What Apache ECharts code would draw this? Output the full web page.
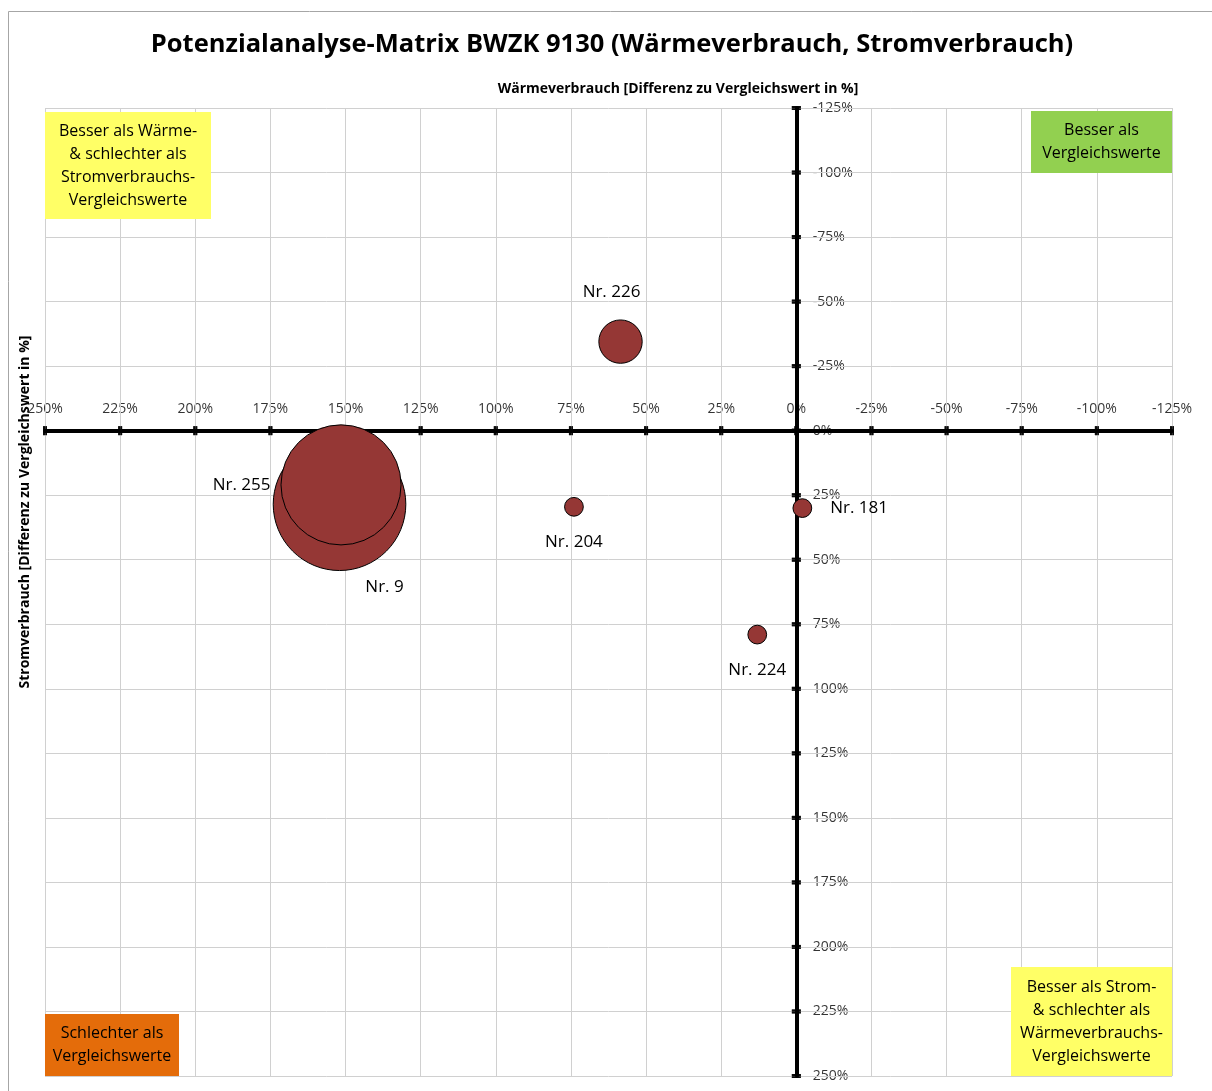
<!DOCTYPE html>
<html>
<head>
<meta charset="utf-8">
<script src="https://cdn.jsdelivr.net/npm/echarts@6/dist/echarts.min.js"></script>
<style>
html,body{margin:0;padding:0;background:#fff;overflow:hidden;width:100%;height:100%;}
#chart{width:1212px;height:1091px;overflow:hidden;}
</style>
</head>
<body>
<div id="chart"></div>
<script>
// ---- Data ----
const names   = ['Nr. 226', 'Nr. 9', 'Nr. 255', 'Nr. 204', 'Nr. 181', 'Nr. 224'];
const waerme  = [58.5, 152, 151.5, 74, -2, 13];      // Wärmeverbrauch, Differenz in %
const strom   = [-34.5, 28.5, 21, 29.5, 30, 79];     // Stromverbrauch, Differenz in %
const groesse = [10.7, 100, 82, 2, 2, 2];            // Blasengröße (relativ)
const axisMin = -125, axisMax = 250, axisStep = 25;
const xTickValues = [250, 225, 200, 175, 150, 125, 100, 75, 50, 25, 0, -25, -50, -75, -100, -125];
const yTickValues = [-125, -100, -75, -50, -25, 0, 25, 50, 75, 100, 125, 150, 175, 200, 225, 250];

const titleText = 'Potenzialanalyse-Matrix BWZK 9130 (Wärmeverbrauch, Stromverbrauch)';
const xName = 'Wärmeverbrauch [Differenz zu Vergleichswert in %]';
const yName = 'Stromverbrauch [Differenz zu Vergleichswert in %]';
const quadrantTexts = [
  'Besser als Wärme-\n& schlechter als\nStromverbrauchs-\nVergleichswerte',
  'Besser als\nVergleichswerte',
  'Besser als Strom-\n& schlechter als\nWärmeverbrauchs-\nVergleichswerte',
  'Schlechter als\nVergleichswerte'
];

// ---- Styling / layout ----
const FONT = '"Open Sans", "Noto Sans", sans-serif';
const labelPlacement = {
  'Nr. 226': {position: 'top', distance: 19, offset: [-9, 0]},
  'Nr. 9':   {position: 'bottom', distance: 8, offset: [45, 0]},
  'Nr. 255': {position: 'left', distance: 10},
  'Nr. 204': {position: 'bottom', distance: 17},
  'Nr. 181': {position: 'right', distance: 18},
  'Nr. 224': {position: 'bottom', distance: 17}
};
const quadrantBoxes = [
  {x: 45,   y: 112, w: 166, h: 107, color: '#FFFF66'},
  {x: 1031, y: 111, w: 141, h: 62,  color: '#92D050'},
  {x: 1011, y: 967, w: 161, h: 109, color: '#FFFF66'},
  {x: 45,   y: 1014, w: 134, h: 62, color: '#E46C0A'}
];

const seriesData = names.map((n, i) => ({
  name: n,
  value: [waerme[i], strom[i], groesse[i]],
  label: Object.assign({show: true}, labelPlacement[n])
}));

const pct = v => v + '%';

function mkAxis(pos) {
  return {
    type: 'value', min: axisMin, max: axisMax, interval: axisStep, inverse: true,
    position: pos, z: 2,
    axisLine: {show: true, onZero: true, lineStyle: {color: '#000', width: 4}},
    axisTick: {show: false},
    axisLabel: {show: false},
    splitLine: {show: true, lineStyle: {color: '#D0D0D0', width: 1}}
  };
}

const option = {
  backgroundColor: '#ffffff',
  animation: false,
  grid: {left: 45, top: 108, width: 1127, height: 968, containLabel: false},
  xAxis: mkAxis('top'),
  yAxis: mkAxis('right'),
  series: [
    {
      // x tick labels on the zero line (under the axis line)
      type: 'scatter', silent: true, z: 1,
      symbol: 'rect', symbolSize: [4, 9],
      data: xTickValues.map(v => [v, 0]),
      itemStyle: {color: '#000'},
      label: {show: true, position: 'top', distance: 10, color: '#000', fontSize: 14, fontFamily: FONT,
              formatter: p => pct(p.value[0])},
      emphasis: {disabled: true}
    },
    {
      // y tick labels on the zero line (under the axis line)
      type: 'scatter', silent: true, z: 1,
      symbol: 'rect', symbolSize: [9, 4],
      data: yTickValues.map(v => [0, v]),
      itemStyle: {color: '#000'},
      label: {show: true, position: 'right', distance: 12, color: '#000', fontSize: 14, fontFamily: FONT,
              formatter: p => pct(p.value[1])},
      emphasis: {disabled: true}
    },
    {
      // x tick marks crossing the axis line
      type: 'scatter', silent: true, z: 3,
      symbol: 'rect', symbolSize: [4, 9],
      data: xTickValues.map(v => [v, 0]),
      itemStyle: {color: '#000'},
      emphasis: {disabled: true}
    },
    {
      // y tick marks crossing the axis line
      type: 'scatter', silent: true, z: 3,
      symbol: 'rect', symbolSize: [9, 4],
      data: yTickValues.map(v => [0, v]),
      itemStyle: {color: '#000'},
      emphasis: {disabled: true}
    },
    {
      type: 'scatter',
      data: seriesData,
      symbol: 'circle',
      symbolSize: v => 132.6 * Math.sqrt(v[2] / 100),
      itemStyle: {color: '#953735', borderColor: '#000', borderWidth: 1, opacity: 1},
      label: {
        show: true,
        formatter: p => p.name,
        color: '#000',
        fontSize: 17,
        fontFamily: FONT
      },
      emphasis: {disabled: true},
      z: 5
    }
  ],
  graphic: [
    {type: 'rect', z: -10, silent: true,
     shape: {x: 8.5, y: 11.5, width: 1300, height: 1200},
     style: {fill: 'none', stroke: '#A6A6A6', lineWidth: 1}},
    {type: 'text', x: 612, y: 45, silent: true,
     style: {text: titleText, font: 'bold 25.5px ' + FONT, fill: '#000', textAlign: 'center', textVerticalAlign: 'middle'}},
    {type: 'text', x: 678, y: 89, silent: true,
     style: {text: xName, font: 'bold 14px ' + FONT, fill: '#000', textAlign: 'center', textVerticalAlign: 'middle'}},
    {type: 'text', x: 25, y: 512, rotation: Math.PI / 2, silent: true,
     style: {text: yName, font: 'bold 14px ' + FONT, fill: '#000', textAlign: 'center', textVerticalAlign: 'middle'}}
  ].concat(...quadrantBoxes.map((b, i) => ([
    {type: 'rect', silent: true, z: 100, shape: {x: b.x, y: b.y, width: b.w, height: b.h}, style: {fill: b.color}},
    {type: 'text', silent: true, z: 101, x: b.x + b.w / 2, y: b.y + b.h / 2,
     style: {text: quadrantTexts[i], font: '16px ' + FONT, lineHeight: 23, fill: '#000',
             textAlign: 'center', textVerticalAlign: 'middle'}}
  ])))
};

const chart = echarts.init(document.getElementById('chart'), null, {renderer: 'canvas', width: 1212, height: 1091});
chart.setOption(option);
</script>
</body>
</html>
